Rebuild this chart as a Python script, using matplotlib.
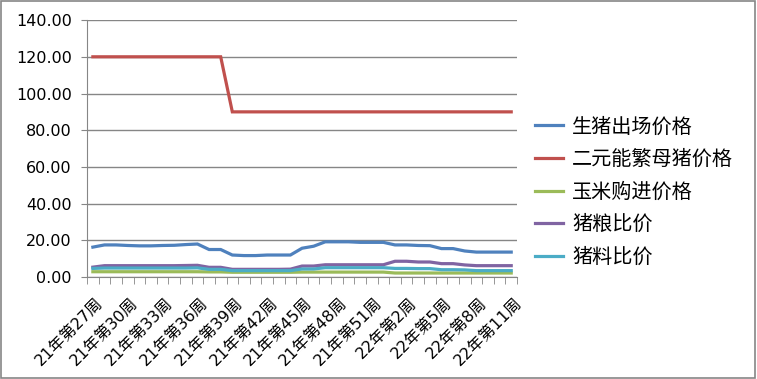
import matplotlib
import matplotlib.pyplot as plt
import numpy as np
from matplotlib.patches import Rectangle
import matplotlib.transforms as mtransforms
plt.switch_backend('agg')

matplotlib.rcParams['font.family'] = ['DejaVu Sans', 'Noto Sans CJK SC']

# weeks: 21年 27..52, 22年 1..11
weeks = ['21年第%d周' % w for w in range(27, 53)] + ['22年第%d周' % w for w in range(1, 12)]

pig_price = [16.3, 17.5, 17.5, 17.2, 17.0, 17.0, 17.2, 17.3, 17.7, 18.0,
             15.0, 15.0, 12.0, 11.7, 11.7, 12.0, 12.0, 12.0, 15.7, 16.8,
             19.2, 19.2, 19.2, 18.9, 18.9, 18.9, 17.5, 17.5, 17.2, 17.1,
             15.5, 15.5, 14.2, 13.6, 13.6, 13.6, 13.6]
sow_price = [120] * 12 + [90] * 25
corn_price = [2.9] * 10 + [2.8] * 2 + [2.6] * 6 + [2.7] * 8 + [2.2] * 11
pig_grain = [5.4, 6.2, 6.2, 6.2, 6.2, 6.2, 6.2, 6.2, 6.3, 6.4,
             5.3, 5.3, 4.2, 4.2, 4.2, 4.2, 4.2, 4.3, 6.0, 6.0,
             6.7, 6.7, 6.7, 6.7, 6.7, 6.7, 8.6, 8.6, 8.2, 8.2,
             7.3, 7.3, 6.6, 6.2, 6.2, 6.2, 6.2]
pig_feed = [4.7, 4.9, 4.9, 4.9, 4.9, 4.9, 4.9, 4.9, 4.9, 5.0,
            4.2, 4.2, 3.5, 3.5, 3.5, 3.5, 3.5, 3.5, 4.4, 4.4,
            5.1, 5.1, 5.1, 5.1, 5.1, 5.1, 4.7, 4.7, 4.6, 4.6,
            4.0, 4.0, 3.9, 3.5, 3.5, 3.5, 3.5]

series = [('生猪出场价格', pig_price, '#4F81BD'),
          ('二元能繁母猪价格', sow_price, '#C0504D'),
          ('玉米购进价格', corn_price, '#9BBB59'),
          ('猪粮比价', pig_grain, '#8064A2'),
          ('猪料比价', pig_feed, '#4BACC6')]

fig = plt.figure(figsize=(7.57, 3.79), dpi=100)
ax = fig.add_axes([0.115, 0.269, 0.683 - 0.115, 0.947 - 0.269])

x = np.arange(len(weeks))
for name, vals, col in series:
    ax.plot(x, vals, color=col, lw=2.3, label=name, solid_joinstyle='miter')

ax.set_xlim(-0.5, len(weeks) - 0.5)
ax.set_ylim(0, 140)
ax.set_yticks(np.arange(0, 141, 20))
ax.set_yticklabels(['%.2f' % v for v in np.arange(0, 141, 20)], fontsize=11.5)
ax.yaxis.grid(True, color='#868686', lw=1)
ax.set_axisbelow(True)
ax.tick_params(axis='y', length=4, pad=7, color='#868686')

ax.set_xticks(x[::3])
ax.set_xticklabels(weeks[::3], rotation=45, ha='right', va='center',
                   rotation_mode='anchor', fontsize=11.5)
ax.set_xticks(np.arange(-0.5, len(weeks)), minor=True)
ax.tick_params(axis='x', which='major', length=0, pad=17)
ax.tick_params(axis='x', which='minor', length=5, color='#868686')
shift = mtransforms.ScaledTranslation(8 / 100, 0, fig.dpi_scale_trans)
for lab in ax.get_xticklabels():
    lab.set_transform(lab.get_transform() + shift)

for s in ['top', 'right']:
    ax.spines[s].set_visible(False)
for s in ['left', 'bottom']:
    ax.spines[s].set_color('#868686')

ax.legend(loc='center left', bbox_to_anchor=(535 / 757, 1 - 192 / 379),
          bbox_transform=fig.transFigure, frameon=False, fontsize=14.5,
          handlelength=1.4, labelspacing=0.66, handletextpad=0.45,
          borderpad=0, borderaxespad=0)

fig.patches.append(Rectangle((0.001, 0.003), 0.997, 0.995, transform=fig.transFigure,
                             fill=False, edgecolor='#868686', lw=1.2))

plt.savefig('out.png', dpi=100)
